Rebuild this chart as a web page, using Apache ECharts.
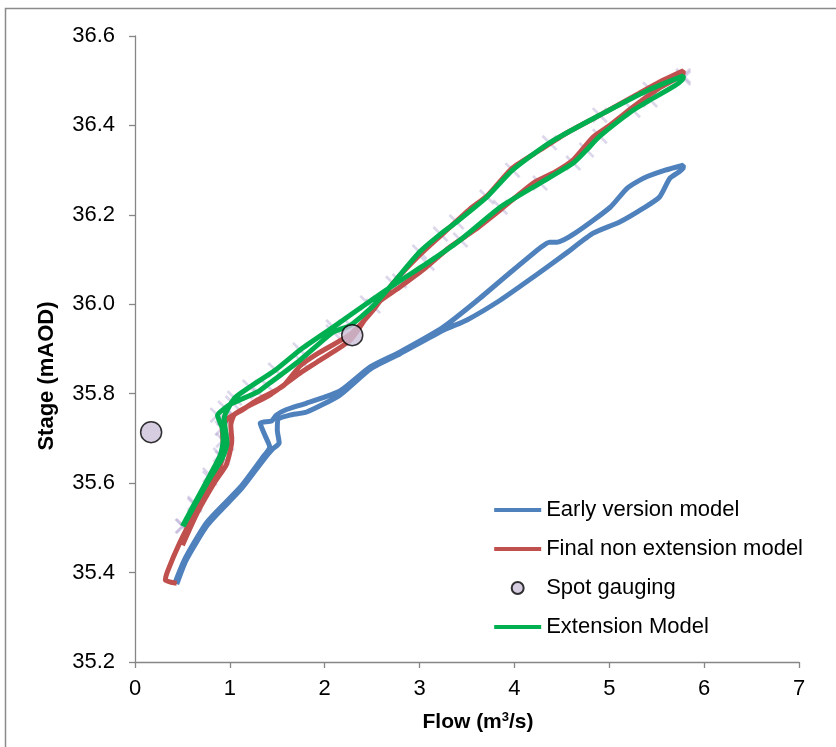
<!DOCTYPE html>
<html>
<head>
<meta charset="utf-8">
<script src="https://cdn.jsdelivr.net/npm/echarts@6/dist/echarts.min.js"></script>
<style>
  html, body { margin: 0; padding: 0; background: #fff; }
  #main { width: 836px; height: 747px; }
</style>
</head>
<body>
<div id="main"></div>
<script>
// Early version model (loop: up one side, back down the other)
var earlyFlow = [0.42, 0.53, 0.76, 1.11, 1.34, 1.42, 1.37, 1.32, 1.44, 1.49, 1.58, 1.81, 2.16, 2.48, 2.79, 3.25, 3.61, 3.95, 4.27, 4.37, 4.45, 4.64, 5.01, 5.19, 5.36, 5.59, 5.78,
                 5.78, 5.64, 5.53, 5.36, 5.11, 4.83, 4.55, 4.20, 3.85, 3.50, 3.25, 2.79, 2.48, 2.16, 1.81, 1.63, 1.51, 1.50, 1.52, 1.45, 1.35, 1.12, 0.77, 0.54, 0.44];
var earlyStage = [35.376, 35.432, 35.513, 35.591, 35.656, 35.681, 35.707, 35.734, 35.739, 35.752, 35.763, 35.779, 35.806, 35.860, 35.893, 35.949, 36.009, 36.070, 36.126, 36.139, 36.139, 36.159, 36.217, 36.260, 36.282, 36.300, 36.311,
                  36.305, 36.282, 36.240, 36.215, 36.184, 36.159, 36.115, 36.061, 36.009, 35.965, 35.942, 35.889, 35.855, 35.797, 35.759, 35.752, 35.743, 35.719, 35.690, 35.676, 35.651, 35.587, 35.508, 35.428, 35.374];

// Final non extension model
var finalFlow = [0.44, 0.32, 0.34, 0.47, 0.65, 0.82, 0.91, 0.93, 0.92, 0.98, 1.11, 1.29, 1.56, 1.74, 1.92, 2.27, 2.51, 2.72, 3.00, 3.22, 3.53, 3.71, 3.98, 4.27, 4.55, 4.90, 5.25, 5.53, 5.78,
                 5.78, 5.53, 5.25, 5.01, 4.83, 4.62, 4.43, 4.20, 3.85, 3.58, 3.32, 3.06, 2.79, 2.53, 2.27, 1.92, 1.74, 1.42, 1.21, 1.05, 1.01, 1.02, 1.00, 0.96, 0.84, 0.66, 0.50];
var finalStage = [35.376, 35.383, 35.401, 35.466, 35.540, 35.604, 35.647, 35.685, 35.723, 35.745, 35.761, 35.786, 35.817, 35.862, 35.889, 35.933, 35.987, 36.047, 36.110, 36.153, 36.213, 36.242, 36.305, 36.345, 36.383, 36.423, 36.464, 36.497, 36.522,
                  36.517, 36.484, 36.441, 36.401, 36.374, 36.323, 36.296, 36.271, 36.211, 36.166, 36.128, 36.081, 36.038, 35.998, 35.920, 35.871, 35.846, 35.797, 35.774, 35.754, 35.730, 35.696, 35.669, 35.640, 35.602, 35.535, 35.461];

// Extension Model
var extFlow = [0.50, 0.63, 0.79, 0.90, 0.93, 0.92, 0.87, 0.95, 1.03, 1.29, 1.39, 1.74, 2.09, 2.27, 2.51, 2.72, 3.00, 3.22, 3.39, 3.71, 3.98, 4.37, 4.90, 5.43, 5.78,
               5.78, 5.43, 5.25, 4.90, 4.76, 4.62, 4.27, 3.85, 3.43, 3.08, 2.79, 2.45, 2.09, 1.74, 1.48, 1.21, 1.05, 0.94, 0.97, 0.92, 0.79, 0.63, 0.51];
var extStage = [35.504, 35.555, 35.618, 35.663, 35.696, 35.723, 35.752, 35.768, 35.779, 35.804, 35.819, 35.875, 35.938, 35.953, 35.996, 36.047, 36.117, 36.157, 36.184, 36.240, 36.300, 36.361, 36.423, 36.481, 36.511,
                36.506, 36.457, 36.434, 36.376, 36.345, 36.316, 36.271, 36.217, 36.144, 36.092, 36.052, 36.003, 35.949, 35.898, 35.853, 35.815, 35.790, 35.745, 35.689, 35.656, 35.611, 35.551, 35.504];

// Spot gauging
var spotFlow = [0.17, 2.29];
var spotStage = [35.714, 35.931];

var xTicks = [0, 1, 2, 3, 4, 5, 6, 7];
var yTicks = [35.2, 35.4, 35.6, 35.8, 36.0, 36.2, 36.4, 36.6];

function pairs(xs, ys) {
    var out = [];
    for (var i = 0; i < xs.length; i++) {
        out.push([xs[i], ys[i]]);
    }
    return out;
}

var font = '"Liberation Sans", Arial, sans-serif';
var crossPath = 'path://M0,1.2L1.2,0L10,8.8L8.8,10ZM8.8,0L10,1.2L1.2,10L0,8.8Z';
// band in a 47x12 box, so the legend shows a plain line
var lineIcon = 'path://M0,0M0,4H47V8H0ZM47,12';

var myChart = echarts.init(document.getElementById('main'));

var option = {
    backgroundColor: '#fff',
    animation: false,
    textStyle: { fontFamily: font },
    graphic: [{
        type: 'rect',
        silent: true,
        z: -10,
        shape: { x: 5.5, y: 8.5, width: 850, height: 760 },
        style: { fill: 'none', stroke: '#8a8a8a', lineWidth: 1.5 }
    }],
    grid: { left: 135, right: 37, top: 36, bottom: 85 },
    legend: {
        orient: 'vertical',
        right: 28,
        top: 494,
        align: 'left',
        itemWidth: 47,
        itemHeight: 12,
        itemGap: 17,
        textStyle: { fontSize: 22, color: '#000', fontFamily: font },
        data: [
            { name: 'Early version model', icon: lineIcon },
            { name: 'Final non extension model', icon: lineIcon },
            { name: 'Spot gauging', icon: 'circle' },
            { name: 'Extension Model', icon: lineIcon }
        ]
    },
    xAxis: {
        type: 'value',
        min: xTicks[0],
        max: xTicks[xTicks.length - 1],
        interval: 1,
        name: 'Flow (m{sup|3}/s)',
        nameLocation: 'middle',
        nameGap: 49,
        nameTextStyle: {
            fontSize: 21, fontWeight: 'bold', color: '#000', fontFamily: font,
            padding: [0, 0, 0, 22],
            rich: { sup: { fontSize: 13, fontWeight: 'bold', verticalAlign: 'top', padding: [0, 0, 10, 0], color: '#000' } }
        },
        splitLine: { show: false },
        axisLine: { lineStyle: { color: '#868686', width: 1.3 } },
        axisTick: { inside: false, length: 6, lineStyle: { color: '#868686', width: 1.3 } },
        axisLabel: { fontSize: 22, color: '#000', margin: 16, fontFamily: font }
    },
    yAxis: {
        type: 'value',
        min: yTicks[0],
        max: yTicks[yTicks.length - 1],
        interval: 0.2,
        name: 'Stage (mAOD)',
        nameLocation: 'middle',
        nameGap: 77,
        nameRotate: 90,
        nameTextStyle: { fontSize: 22, fontWeight: 'bold', color: '#000', fontFamily: font, padding: [0, 54, 0, 0] },
        splitLine: { show: false },
        axisLine: { show: true, lineStyle: { color: '#868686', width: 1.3 } },
        axisTick: { show: true, inside: false, length: 6, lineStyle: { color: '#868686', width: 1.3 } },
        axisLabel: {
            fontSize: 22, color: '#000', margin: 20, fontFamily: font,
            formatter: function (v) { return v.toFixed(1); }
        }
    },
    series: [{
        name: 'Early version model',
        type: 'line',
        data: pairs(earlyFlow, earlyStage),
        symbol: 'none',
        smooth: 0.2,
        lineStyle: { color: '#4f81bd', width: 5 },
        itemStyle: { color: '#4f81bd' },
        z: 2
    }, {
        name: 'Final non extension model',
        type: 'line',
        data: pairs(finalFlow, finalStage),
        symbol: 'none',
        smooth: 0.2,
        lineStyle: { color: '#c0504d', width: 5 },
        itemStyle: { color: '#c0504d' },
        z: 3
    }, {
        name: 'Extension crosses',
        type: 'scatter',
        data: pairs(extFlow, extStage),
        symbol: crossPath,
        symbolSize: 16,
        itemStyle: { color: 'rgba(160,145,200,0.45)' },
        silent: true,
        z: 1
    }, {
        name: 'Extension Model',
        type: 'line',
        data: pairs(extFlow, extStage),
        symbol: 'none',
        smooth: 0.2,
        lineStyle: { color: '#00b050', width: 5 },
        itemStyle: { color: '#00b050' },
        z: 4
    }, {
        name: 'Spot gauging',
        type: 'scatter',
        data: pairs(spotFlow, spotStage),
        symbol: 'circle',
        symbolSize: 21,
        itemStyle: { color: '#ccc1da', borderColor: '#000', borderWidth: 1.5 },
        z: 5
    }]
};

myChart.setOption(option);
</script>
</body>
</html>
